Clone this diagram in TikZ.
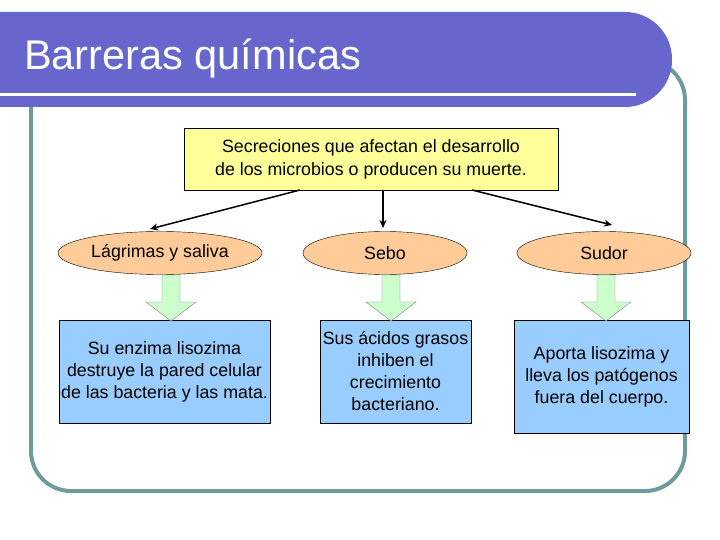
\documentclass[tikz,border=0pt]{standalone}
\usepackage{fontspec}
\setmainfont{Liberation Sans}
\usetikzlibrary{shapes.geometric,arrows.meta}
\definecolor{tb}{HTML}{6666CC}
\definecolor{fr}{HTML}{6F9B9B}
\definecolor{yb}{HTML}{FFFF99}
\definecolor{ob}{HTML}{FFCC99}
\definecolor{gb}{HTML}{CCFFCC}
\definecolor{bb}{HTML}{99CCFF}
\tikzset{
 ell/.style={ellipse,draw=black,fill=ob,minimum height=43pt,font=\fontsize{17.8}{21}\selectfont},
 bbox/.style={draw=black,fill=bb,align=center,font=\fontsize{17.8}{22}\selectfont,inner sep=0pt},
 conn/.style={-{Stealth[length=8pt,width=7pt]},line width=1.5pt},
 garrow/.style={draw=gray,fill=gb}
}
\newcommand{\garr}[1]{\path[garrow] (#1-9,275) -- (#1+9,275) -- (#1+9,302) -- (#1+25,302) -- (#1,321) -- (#1-25,302) -- (#1-9,302) -- cycle;}
\begin{document}
\begin{tikzpicture}[x=1pt,y=-1pt]
\useasboundingbox (0,0) rectangle (720,540);
\draw[fr,line width=4pt,rounded corners=40pt] (31,60) rectangle (685,491);
\begin{scope}
\clip (0,0) rectangle (720,540);
\fill[tb,rounded corners=47pt] (-100,12) rectangle (672,107);
\end{scope}
\draw[white,line width=3pt] (0,95) -- (636,95);
\node[anchor=base west,text=white,font=\fontsize{41.5}{44}\selectfont,inner sep=0pt] (title) at (24,70) {Barreras químicas};
\node[draw=black,fill=yb,minimum width=374pt,minimum height=62pt,align=center,font=\fontsize{17.8}{23}\selectfont] (top) at (371,159) {Secreciones que afectan el desarrollo\\de los microbios o producen su muerte.};
\node[ell,minimum width=196pt] (e1) at (160,253) {Lágrimas y saliva};
\node[ell,minimum width=164pt] (e2) at (385,253) {Sebo};
\node[ell,minimum width=174pt] (e3) at (604,253) {Sudor};
\node[bbox,minimum width=211pt,minimum height=103pt] (b1) at (164.5,371.5) {Su enzima lisozima\\destruye la pared celular\\de las bacteria y las mata.};
\node[bbox,minimum width=151pt,minimum height=103pt] (b2) at (395.5,371.5) {Sus ácidos grasos\\inhiben el\\crecimiento\\bacteriano.};
\node[bbox,minimum width=175pt,minimum height=113pt] (b3) at (601.5,376.5) {Aporta lisozima y\\lleva los patógenos\\fuera del cuerpo.};
\coordinate (s1) at (300,190); \coordinate (s2) at (383,190); \coordinate (s3) at (472,190);
\coordinate (t1) at (150,229); \coordinate (t2) at (383,228); \coordinate (t3) at (612,225);
\draw[conn] (s1) -- (t1);
\draw[conn] (s2) -- (t2);
\draw[conn] (s3) -- (t3);
\garr{171}\garr{391}\garr{606}
\end{tikzpicture}
\end{document}
